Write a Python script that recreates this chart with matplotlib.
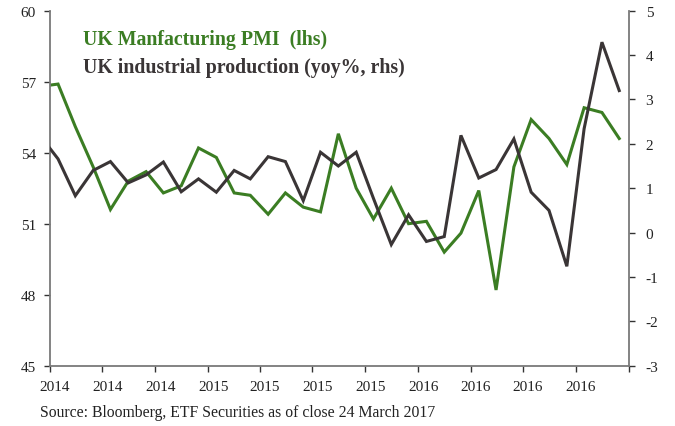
import numpy as np
import pandas as pd
import matplotlib
matplotlib.use("Agg")
import matplotlib.pyplot as plt
import matplotlib.transforms as mtransforms

# monthly readings, mid-month, Mar 2014 - Dec 2016
dates = pd.date_range("2014-03-01", "2016-12-01", freq="MS") + pd.Timedelta(days=14)
pmi = [56.8, 56.9, 55.1, 53.4, 51.6, 52.8, 53.2, 52.3, 52.6, 54.2, 53.8, 52.3,
       52.2, 51.4, 52.3, 51.7, 51.5, 54.8, 52.5, 51.2, 52.5, 51.0, 51.1, 49.8,
       50.6, 52.4, 48.2, 53.4, 55.4, 54.6, 53.5, 55.9, 55.7, 54.6]
ip = [2.18, 1.66, 0.83, 1.40, 1.60, 1.12, 1.30, 1.59, 0.92, 1.21, 0.91, 1.40,
      1.21, 1.71, 1.60, 0.72, 1.81, 1.50, 1.81, 0.77, -0.27, 0.40, -0.20, -0.09,
      2.19, 1.23, 1.42, 2.11, 0.91, 0.50, -0.76, 2.34, 4.29, 3.20]

ticks = pd.date_range("2014-04-01", "2017-01-01", freq="QS")
tick_labels = ["2014", "2014", "2014", "2015", "2015", "2015", "2015",
               "2016", "2016", "2016", "2016", ""]
left_ticks = [45, 48, 51, 54, 57, 60]
right_ticks = [-3, -2, -1, 0, 1, 2, 3, 4, 5]

green = "#3b7d23"
dark = "#3a3536"
spine = "#7a7a7a"

plt.rcParams["font.family"] = ["Liberation Serif", "DejaVu Serif"]
plt.rcParams["axes.unicode_minus"] = False

fig = plt.figure(figsize=(6.75, 4.27), dpi=100)
ax = fig.add_axes([50 / 675, 1 - 366.7 / 427, 579 / 675, 355 / 427])
ax2 = ax.twinx()

ax.plot(dates, pmi, color=green, lw=2.2, solid_joinstyle="miter")
ax2.plot(dates, ip, color=dark, lw=2.2, solid_joinstyle="miter")

ax.set_xlim(ticks[0], ticks[-1])
ax.set_ylim(45, 60)
ax2.set_ylim(-3, 5)
ax.set_yticks(left_ticks)
ax2.set_yticks(right_ticks)
ax.set_xticks(ticks)
ax.set_xticklabels(tick_labels)

for a in (ax, ax2):
    a.spines["top"].set_visible(False)
    for s in ("left", "right", "bottom"):
        a.spines[s].set_color(spine)
        a.spines[s].set_linewidth(1.3)
    a.tick_params(length=4, width=1, color="#333333", labelsize=11,
                  labelcolor="#222222")
    a.patch.set_visible(False)
ax.spines["right"].set_visible(False)
ax2.spines["left"].set_visible(False)
ax2.spines["bottom"].set_visible(False)
ax.tick_params(axis="x", pad=6)
ax.tick_params(axis="y", pad=6)
ax2.tick_params(axis="y", pad=8)

offset = mtransforms.ScaledTranslation(5 / 100, 0, fig.dpi_scale_trans)
for lab in ax.get_xticklabels():
    lab.set_transform(lab.get_transform() + offset)

fig.text(83 / 675, 1 - 40 / 427, "UK Manfacturing PMI  (lhs)", color=green,
         fontsize=14.3, fontweight="bold", va="center")
fig.text(83 / 675, 1 - 68 / 427, "UK industrial production (yoy%, rhs)",
         color=dark, fontsize=14.3, fontweight="bold", va="center")
fig.text(40 / 675, 1 - 413 / 427,
         "Source: Bloomberg, ETF Securities as of close 24 March 2017",
         fontsize=11.3, color="#222222", va="center")

fig.savefig("out.png", dpi=100)
